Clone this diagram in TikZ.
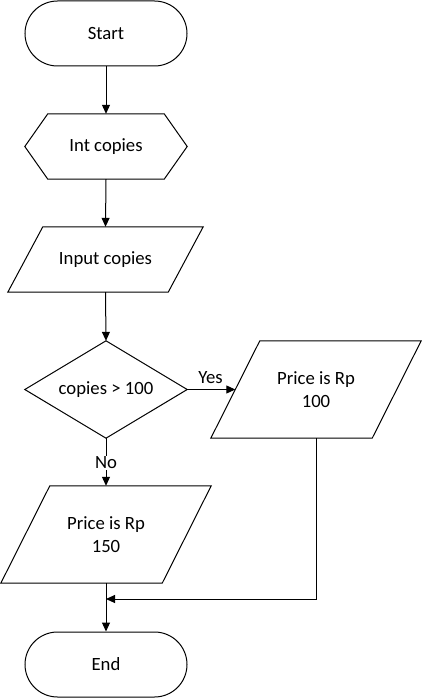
\documentclass[tikz,border=0pt]{standalone}
\usepackage{fontspec}
\setmainfont{Carlito}
\usetikzlibrary{arrows.meta}
\begin{document}
\begin{tikzpicture}[x=1pt,y=-1pt,
  every node/.style={font=\fontsize{18.7}{22.5}\selectfont, inner sep=0pt, align=center},
  box/.style={minimum width=#1},
  term/.style={draw, line width=1pt, rounded corners=32.5pt, minimum width=162pt, minimum height=65pt},
  outline/.style={draw, line width=1pt, line join=miter},
  conn/.style={line width=1pt, -{Triangle[length=9pt,width=8pt]}},
  plain/.style={line width=1pt},
  lbl/.style={fill=white, inner sep=1pt}]
\useasboundingbox (0,0) rectangle (422,698);

% nodes
\node[term] (start) at (106,33.5) {Start};
\node[minimum width=162pt, minimum height=65pt] (int) at (106,146.5) {Int copies};
\node[minimum width=195pt, minimum height=65pt] (input) at (105.5,259.5) {Input copies};
\node[minimum width=162pt, minimum height=97pt] (dec) at (106,389.5) {copies > 100};
\node[minimum width=210pt, minimum height=97pt] (p100) at (316,389.5) {Price is Rp\\100};
\node[minimum width=210pt, minimum height=97pt] (p150) at (106,534.5) {Price is Rp\\150};
\node[term] (end) at (106,664.5) {End};

% outlines
\draw[outline] (int.west) -- ([xshift=23pt]int.north west) -- ([xshift=-23pt]int.north east)
  -- (int.east) -- ([xshift=-23pt]int.south east) -- ([xshift=23pt]int.south west) -- cycle;
\draw[outline] ([xshift=35pt]input.north west) -- (input.north east)
  -- ([xshift=-35pt]input.south east) -- (input.south west) -- cycle;
\draw[outline] (dec.north) -- (dec.east) -- (dec.south) -- (dec.west) -- cycle;
\draw[outline] ([xshift=49pt]p100.north west) -- (p100.north east)
  -- ([xshift=-49pt]p100.south east) -- (p100.south west) -- cycle;
\draw[outline] ([xshift=49pt]p150.north west) -- (p150.north east)
  -- ([xshift=-49pt]p150.south east) -- (p150.south west) -- cycle;

% connector points
\coordinate (p100in) at ([xshift=24.5pt]p100.west);
\coordinate (p100out) at (p100.south);
\coordinate (merge) at (p150.south |- 0,599);

% connectors
\draw[conn] (start.south) -- (int.north);
\draw[conn] (int.south) -- (input.north);
\draw[conn] (input.south) -- (dec.north);
\draw[conn] (dec.east) -- (p100in);
\draw[conn] (dec.south) -- (p150.north);
\draw[conn] (p150.south) -- (end.north);
\draw[conn] (p100out) |- (merge);

% labels
\node (yes) at (210.5,378) {Yes};
\node[lbl] (no) at (106,463) {No};
\end{tikzpicture}
\end{document}
